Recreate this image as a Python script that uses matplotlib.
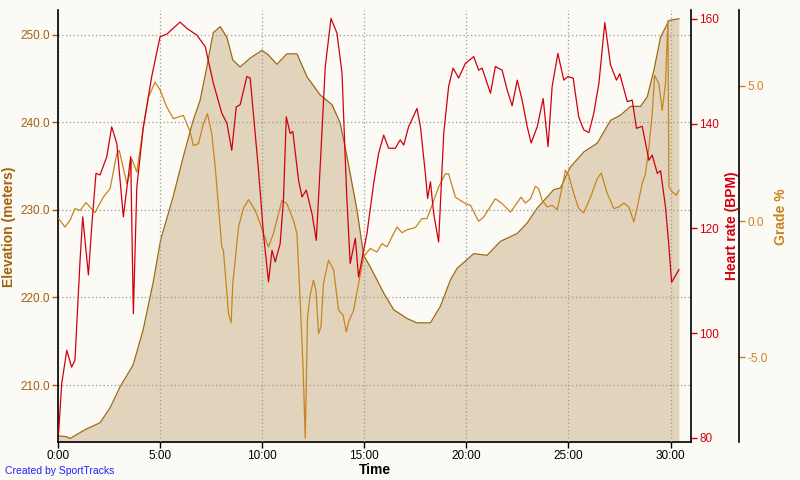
import matplotlib
matplotlib.use("Agg")
import matplotlib.pyplot as plt

plt.rcParams['font.family'] = ['Liberation Sans', 'DejaVu Sans']

# time in minutes
elev_t = [0.0, 0.43, 0.59, 1.32, 2.06, 2.55, 3.04, 3.68, 4.17, 4.66, 5.03, 5.64, 6.13, 6.62,
          6.96, 7.29, 7.6, 7.94, 8.27, 8.56, 8.92, 9.41, 9.99, 10.29, 10.72, 11.21, 11.7,
          12.19, 12.84, 13.42, 13.82, 14.15, 14.64, 14.97, 15.29, 15.95, 16.44, 17.09,
          17.58, 18.24, 18.73, 19.22, 19.54, 20.36, 21.01, 21.67, 22.49, 22.98, 23.47,
          24.28, 24.61, 25.1, 25.75, 26.41, 27.06, 27.55, 28.04, 28.53, 28.86, 29.18,
          29.51, 29.92, 30.41]
elev = [204.2, 204.1, 203.9, 204.9, 205.7, 207.4, 209.8, 212.3, 216.3, 221.7, 226.6, 231.5,
        236.0, 240.2, 242.5, 246.3, 250.2, 250.9, 249.7, 247.1, 246.3, 247.3, 248.2, 247.7,
        246.6, 247.8, 247.8, 245.2, 243.1, 242.0, 239.9, 236.1, 230.0, 224.8, 223.5, 220.5,
        218.6, 217.6, 217.1, 217.1, 219.0, 222.0, 223.3, 225.0, 224.8, 226.4, 227.3, 228.5,
        230.2, 232.3, 232.5, 234.9, 236.6, 237.6, 240.2, 240.8, 241.8, 241.8, 242.9, 245.9,
        249.7, 251.6, 251.8]

hr_t = [0.03, 0.18, 0.43, 0.67, 0.83, 1.08, 1.21, 1.49, 1.65, 1.86, 2.06, 2.39, 2.63, 2.88,
        3.2, 3.56, 3.69, 3.86, 4.18, 4.59, 5.0, 5.33, 5.98, 6.31, 6.8, 7.21, 7.61, 8.02,
        8.27, 8.51, 8.73, 8.92, 9.25, 9.41, 9.82, 10.06, 10.31, 10.48, 10.64, 10.88, 11.04,
        11.18, 11.37, 11.5, 11.78, 11.95, 12.16, 12.44, 12.65, 12.84, 13.09, 13.37, 13.66,
        13.91, 14.07, 14.15, 14.31, 14.56, 14.72, 14.97, 15.13, 15.46, 15.7, 15.95, 16.19,
        16.52, 16.76, 16.93, 17.17, 17.58, 17.75, 17.99, 18.1, 18.24, 18.4, 18.64, 18.89,
        19.13, 19.35, 19.62, 19.95, 20.36, 20.6, 20.77, 21.18, 21.42, 21.75, 22.0, 22.24,
        22.49, 22.73, 22.98, 23.17, 23.47, 23.76, 24.0, 24.2, 24.48, 24.77, 24.97, 25.23,
        25.5, 25.75, 26.0, 26.24, 26.49, 26.78, 27.06, 27.35, 27.51, 27.88, 28.12, 28.33,
        28.61, 28.94, 29.1, 29.35, 29.51, 29.75, 29.92, 30.05, 30.41]
hr = [80.8, 90.3, 96.7, 93.5, 94.8, 113.9, 122.2, 111.1, 120.3, 130.5, 130.2, 133.7, 139.4,
      136.2, 122.2, 133.7, 103.7, 127.9, 139.4, 149.0, 156.6, 157.1, 159.4, 158.2, 156.9,
      154.7, 147.7, 142.0, 140.1, 134.9, 143.2, 143.6, 149.0, 148.7, 131.1, 119.0, 109.8,
      115.8, 113.6, 117.1, 125.4, 141.3, 138.1, 138.5, 129.2, 126.0, 127.3, 122.8, 117.7,
      131.8, 150.9, 160.1, 157.3, 149.6, 133.0, 125.4, 113.3, 118.1, 110.7, 115.8, 119.0,
      128.6, 134.3, 137.8, 135.3, 135.3, 136.9, 135.9, 139.4, 142.9, 139.4, 130.5, 125.7,
      128.9, 122.8, 117.4, 138.1, 147.1, 150.6, 148.7, 151.5, 152.8, 150.2, 150.6, 145.8,
      150.9, 150.2, 146.4, 143.4, 148.3, 144.5, 139.4, 136.3, 139.4, 144.8, 135.6, 147.1,
      153.4, 148.3, 149.0, 148.7, 141.3, 138.8, 138.3, 142.0, 147.7, 159.3, 151.2, 148.3,
      149.5, 144.2, 144.5, 139.1, 139.5, 133.0, 134.0, 130.5, 131.0, 124.1, 116.5, 109.7,
      112.1]

grade_t = [0.03, 0.34, 0.59, 0.83, 1.08, 1.37, 1.81, 2.22, 2.55, 2.88, 3.0, 3.37, 3.53,
           3.61, 3.86, 4.18, 4.43, 4.75, 5.0, 5.33, 5.65, 6.14, 6.47, 6.63, 6.88, 7.12,
           7.32, 7.53, 7.7, 7.86, 8.02, 8.1, 8.35, 8.48, 8.56, 8.84, 9.08, 9.33, 9.66, 9.9,
           10.06, 10.31, 10.55, 10.8, 10.97, 11.21, 11.53, 11.7, 11.86, 12.0, 12.11, 12.22,
           12.35, 12.51, 12.63, 12.76, 12.88, 13.0, 13.25, 13.5, 13.74, 13.96, 14.12, 14.23,
           14.48, 14.72, 14.97, 15.29, 15.62, 15.87, 16.11, 16.6, 16.85, 17.09, 17.5, 17.83,
           18.07, 18.32, 18.64, 18.97, 19.13, 19.46, 19.95, 20.2, 20.6, 20.85, 21.42, 21.75,
           22.16, 22.4, 22.68, 22.89, 23.14, 23.38, 23.54, 23.71, 23.96, 24.2, 24.45, 24.64,
           24.85, 25.01, 25.26, 25.5, 25.75, 26.08, 26.41, 26.6, 26.9, 27.22, 27.47, 27.71,
           27.96, 28.2, 28.37, 28.61, 28.77, 28.94, 29.1, 29.22, 29.43, 29.59, 29.75, 29.87,
           29.92, 30.08, 30.29, 30.41]
grade = [0.1, -0.21, 0.04, 0.47, 0.4, 0.69, 0.32, 0.89, 1.2, 2.49, 2.61, 1.39, 1.75, 2.31,
         1.81, 3.47, 4.57, 5.12, 4.84, 4.2, 3.78, 3.9, 3.3, 2.79, 2.86, 3.59, 3.96, 3.22, 2.0,
         0.53, -0.94, -1.07, -3.39, -3.74, -2.29, -0.21, 0.47, 0.8, 0.4, -0.08, -0.45, -0.94,
         -0.45, 0.28, 0.77, 0.65, 0.04, -0.45, -2.9, -5.36, -7.99, -3.52, -2.72, -2.17, -2.54,
         -4.13, -3.88, -2.29, -1.43, -1.8, -3.27, -3.46, -4.07, -3.7, -3.27, -2.29, -1.3,
         -1.0, -1.13, -0.82, -0.94, -0.21, -0.42, -0.31, -0.23, 0.1, 0.1, 0.6, 1.26, 1.75,
         1.75, 0.89, 0.65, 0.59, 0.0, 0.16, 0.83, 0.65, 0.34, 0.59, 0.89, 0.67, 0.83, 1.29,
         1.2, 0.77, 0.53, 0.59, 0.43, 1.08, 1.88, 1.69, 1.02, 0.47, 0.31, 0.89, 1.57, 1.78,
         1.02, 0.47, 0.53, 0.67, 0.53, -0.03, 0.53, 1.39, 1.75, 2.73, 3.96, 5.37, 5.06, 4.08,
         5.06, 7.39, 1.26, 1.08, 0.96, 1.14]

x_ticks = [0, 5, 10, 15, 20, 25, 30]
x_labels = ['0:00', '5:00', '10:00', '15:00', '20:00', '25:00', '30:00']
elev_ticks = [210, 220, 230, 240, 250]
hr_ticks = [80, 100, 120, 140, 160]
grade_ticks = [-5, 0, 5]

bg = '#FBFAF5'
brown = '#A0620E'
red = '#D00010'
orange = '#C8841E'

fig = plt.figure(figsize=(8, 4.8), dpi=100, facecolor=bg)
ax = fig.add_axes([58/800, 38/480, 633/800, 432/480])
ax.set_facecolor(bg)

ax.fill_between(elev_t, elev, 200, color='#E2D4BC', lw=0, zorder=1)
ax.plot(elev_t, elev, color='#9C6814', lw=0.9, zorder=2)
ax.set_xlim(0, 31.0)
ax.set_ylim(203.5, 252.8)
ax.set_xticks(x_ticks)
ax.set_xticklabels(x_labels)
ax.set_yticks(elev_ticks)
ax.set_yticklabels(['%.1f' % v for v in elev_ticks])
ax.grid(True, color='#999999', linestyle=(0, (1, 2)), lw=0.9, zorder=3)
ax.set_axisbelow(False)
ax.tick_params(axis='x', length=4, width=1, colors='black', labelsize=8.5, pad=2)
ax.tick_params(axis='y', length=4, width=1, color=brown, labelcolor=brown, labelsize=8.5, pad=2)
for s in ['top', 'right']:
    ax.spines[s].set_visible(False)
ax.spines['left'].set_linewidth(1.2)
ax.spines['bottom'].set_linewidth(1.2)
ax.spines['left'].set_zorder(5)

ax_gr = ax.twinx()
ax_gr.plot(grade_t, grade, color=orange, lw=0.9)
ax_gr.set_ylim(-8.125, 7.78)
ax_gr.set_yticks(grade_ticks)
ax_gr.set_yticklabels(['%.1f' % v for v in grade_ticks])
ax_gr.spines['right'].set_position(('axes', (739 - 58) / 633))
ax_gr.spines['right'].set_linewidth(1.2)
for s in ['top', 'left', 'bottom']:
    ax_gr.spines[s].set_visible(False)
ax_gr.tick_params(axis='y', length=4, width=1, color=orange, labelcolor=orange, labelsize=8.5, pad=2)

ax_hr = ax.twinx()
ax_hr.plot(hr_t, hr, color=red, lw=0.9)
ax_hr.set_ylim(79.2, 161.7)
ax_hr.set_yticks(hr_ticks)
ax_hr.spines['right'].set_linewidth(1.2)
for s in ['top', 'left', 'bottom']:
    ax_hr.spines[s].set_visible(False)
ax_hr.tick_params(axis='y', length=4, width=1, color=red, labelcolor=red, labelsize=8.5, pad=2)

fig.text(9/800, 1 - 227/480, 'Elevation (meters)', rotation=90, ha='center', va='center',
         color=brown, fontsize=10, fontweight='bold')
fig.text(732/800, 1 - 226/480, 'Heart rate (BPM)', rotation=90, ha='center', va='center',
         color=red, fontsize=10, fontweight='bold')
fig.text(781/800, 1 - 217/480, 'Grade %', rotation=90, ha='center', va='center',
         color=orange, fontsize=10, fontweight='bold')
fig.text(375/800, 1 - 470/480, 'Time', ha='center', va='center',
         color='black', fontsize=10, fontweight='bold')
fig.text(5/800, 1 - 471/480, 'Created by SportTracks', ha='left', va='center',
         color='#2020FF', fontsize=7.5)

fig.savefig('out.png', dpi=100, facecolor=bg)
